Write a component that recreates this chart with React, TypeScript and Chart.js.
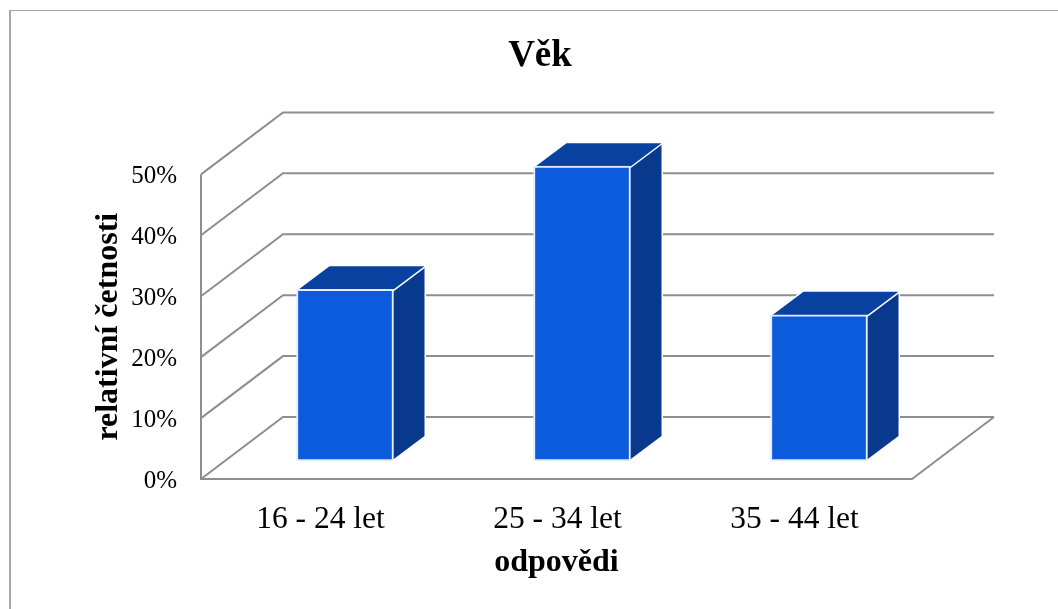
import React, { useEffect, useRef } from "react";
import { Chart, registerables } from "chart.js";

Chart.register(...registerables);

const categories = ["16 - 24 let", "25 - 34 let", "35 - 44 let"];
const values = [28.2, 48.4, 24.0];
const titleText = "Věk";
const xTitle = "odpovědi";
const yTitle = "relativní četnosti";

const FONT = "'Liberation Serif', 'Times New Roman', serif";
const GRID = "#8E8E8E";
const FRONT = "#0D5BDD";
const TOP = "#0841A0";
const SIDE = "#09398D";
const DEPTH = { x: 82, y: -62 };
const BAR_OFFSET = { x: 25.5, y: -18 };
const BAR_DEPTH = { x: 32, y: -24 };

const poly = (ctx: CanvasRenderingContext2D, pts: number[][], fill: string) => {
  ctx.beginPath();
  pts.forEach(([x, y], i) => (i ? ctx.lineTo(x, y) : ctx.moveTo(x, y)));
  ctx.closePath();
  ctx.lineJoin = "round";
  ctx.lineWidth = 3;
  ctx.strokeStyle = "#FFFFFF";
  ctx.stroke();
  ctx.fillStyle = fill;
  ctx.fill();
};

const frame3d = {
  id: "frame3d",
  afterLayout(chart: any) {
    if (chart.titleBlock) {
      chart.titleBlock.left = 22;
      chart.titleBlock.right = 1058;
    }
  },
  beforeDraw(chart: any) {
    const { ctx } = chart;
    ctx.save();
    ctx.fillStyle = "#A6A6A6";
    ctx.fillRect(9, 10, 2, 599);
    ctx.fillRect(9, 10, 1049, 1);
    ctx.restore();
  },
  beforeDatasetsDraw(chart: any) {
    const { ctx, chartArea: a, scales } = chart;
    const y = scales.y;
    ctx.save();
    ctx.strokeStyle = GRID;
    ctx.lineWidth = 2;
    ctx.lineCap = "butt";
    ctx.beginPath();
    y.ticks.forEach((t: any) => {
      const py = y.getPixelForValue(t.value);
      ctx.moveTo(a.left, py);
      ctx.lineTo(a.left + DEPTH.x, py + DEPTH.y);
      ctx.lineTo(a.right + DEPTH.x, py + DEPTH.y);
    });
    ctx.moveTo(a.left, a.top);
    ctx.lineTo(a.left, a.bottom);
    ctx.lineTo(a.right, a.bottom);
    ctx.lineTo(a.right + DEPTH.x, a.bottom + DEPTH.y);
    ctx.stroke();
    ctx.restore();
  },
  beforeDatasetDraw(chart: any, args: any) {
    const { ctx } = chart;
    ctx.save();
    ctx.translate(BAR_OFFSET.x, BAR_OFFSET.y);
    chart.getDatasetMeta(args.index).data.forEach((bar: any) => {
      const { x, y, base, width } = bar.getProps(["x", "y", "base", "width"], true);
      const r = x + width / 2 - 1;
      const l = x - width / 2 + 1;
      const t = y + 1;
      const b = base - 1;
      poly(ctx, [[r, t], [r + BAR_DEPTH.x, t + BAR_DEPTH.y], [r + BAR_DEPTH.x, b + BAR_DEPTH.y], [r, b]], SIDE);
      poly(ctx, [[l, t], [l + BAR_DEPTH.x, t + BAR_DEPTH.y], [r + BAR_DEPTH.x, t + BAR_DEPTH.y], [r, t]], TOP);
    });
  },
  afterDatasetDraw(chart: any) {
    chart.ctx.restore();
  },
};

export default function App() {
  const ref = useRef<HTMLCanvasElement>(null);
  useEffect(() => {
    const chart = new Chart(ref.current!, {
      type: "bar",
      data: {
        labels: categories,
        datasets: [
          {
            data: values,
            backgroundColor: FRONT,
            borderColor: "#E4EDFB",
            borderWidth: 2,
            borderSkipped: false,
            barThickness: 97,
            clip: false,
          } as any,
        ],
      },
      plugins: [frame3d as any],
      options: {
        responsive: false,
        animation: false,
        layout: { padding: { left: 0, top: 0, bottom: 0, right: 146 } },
        plugins: {
          legend: { display: false },
          tooltip: { enabled: false },
          title: {
            display: true,
            text: titleText,
            color: "#000",
            font: { family: FONT, size: 37, weight: "bold" },
            padding: { top: 34, bottom: 96 },
          },
        },
        scales: {
          x: {
            grid: { display: false },
            border: { display: false },
            ticks: { color: "#000", font: { family: FONT, size: 31.5 }, padding: 14, labelOffset: 1, maxRotation: 0 },
            title: {
              display: true,
              text: xTitle,
              color: "#000",
              font: { family: FONT, size: 32, weight: "bold" },
              padding: { top: 8, bottom: 27 },
            },
            afterFit: (s: any) => {
              s.height = 130;
            },
          },
          y: {
            min: 0,
            max: 50,
            grid: { display: false },
            border: { display: false },
            ticks: {
              stepSize: 10,
              color: "#000",
              font: { family: FONT, size: 25 },
              padding: 16,
              labelOffset: 2,
              callback: (v: any) => `${v}%`,
            },
            title: {
              display: true,
              text: yTitle,
              color: "#000",
              font: { family: FONT, size: 32, weight: "bold" },
              padding: { top: 90, bottom: 0 },
            },
            afterFit: (s: any) => {
              s.width = 201;
            },
          },
        },
      },
    });
    return () => chart.destroy();
  }, []);
  return (
    <canvas
      ref={ref}
      width={1058}
      height={609}
      style={{ position: "absolute", left: 0, top: 0, display: "block" }}
    />
  );
}
